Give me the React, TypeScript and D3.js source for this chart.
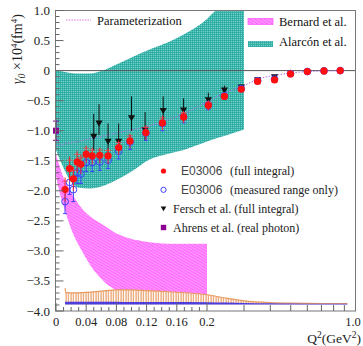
import * as d3 from 'd3';

// E03006 points (full integral and measured range only)
const q2E = [0.012, 0.018, 0.023, 0.028, 0.033, 0.040, 0.048, 0.058, 0.069, 0.083, 0.098, 0.119, 0.141, 0.169, 0.203, 0.242, 0.291, 0.348, 0.419, 0.499, 0.60, 0.72, 0.86];
const gammaFull = [-1.98, -1.63, -1.80, -1.52, -1.56, -1.39, -1.42, -1.41, -1.42, -1.28, -1.17, -1.03, -0.87, -0.77, -0.58, -0.43, -0.31, -0.18, -0.155, -0.055, -0.017, -0.005, 0.0];
const errFull = [0.2, 0.2, 0.2, 0.18, 0.16, 0.14, 0.14, 0.13, 0.13, 0.12, 0.12, 0.12, 0.12, 0.1, 0.08, 0.05, 0.04, 0.03, 0.02, 0.02, 0.02, 0.02, 0.02];
const gammaMeas = [-2.18, -1.86, -1.98, -1.70, -1.72, -1.53, -1.53, -1.52, -1.49, -1.34, -1.19, -1.04, -0.88, -0.77, -0.57, -0.42, -0.30, -0.17, -0.14, -0.05, -0.015, -0.004, 0.0];
const errMeas = [0.2, 0.2, 0.2, 0.18, 0.16, 0.15, 0.15, 0.14, 0.14, 0.13, 0.12, 0.12, 0.12, 0.1, 0.08, 0.05, 0.04, 0.03, 0.02, 0.02, 0.02, 0.02, 0.02];

// Fersch et al.
const q2Fersch = [0.05, 0.057, 0.069, 0.083, 0.1, 0.118, 0.142, 0.169, 0.203, 0.242, 0.291, 0.348, 0.419];
const gammaFersch = [-1.1, -0.88, -1.18, -1.18, -0.79, -0.99, -0.67, -0.66, -0.49, -0.33, -0.28, -0.16, -0.11];
const errFersch = [0.38, 0.32, 0.3, 0.3, 0.36, 0.3, 0.24, 0.2, 0.12, 0.08, 0.05, 0.04, 0.03];

// Ahrens et al. (real photon)
const q2Ahrens = [0];
const gammaAhrens = [-1.0];
const errAhrens = [0.16];

// Parameterization
const q2Param = [0, 0.04, 0.08, 0.12, 0.165, 0.2, 0.24, 0.3, 0.35, 0.42, 0.5, 0.6, 0.75, 0.9];
const gammaParam = [-1.25, -1.15, -1.04, -0.93, -0.74, -0.52, -0.38, -0.25, -0.14, -0.08, -0.04, -0.015, -0.005, 0];

// Alarcón et al. band
const q2Alarcon = [0, 0.01, 0.02, 0.03, 0.045, 0.062, 0.08, 0.1, 0.124, 0.15, 0.169, 0.2, 0.22, 0.25, 0.3];
const alarconHigh = [0, -0.02, -0.04, -0.05, -0.05, 0, 0.1, 0.22, 0.35, 0.48, 0.6, 0.86, 1.0, 1.1, 1.3];
const alarconLow = [-1.32, -1.62, -1.85, -1.95, -1.96, -1.92, -1.82, -1.68, -1.48, -1.38, -1.32, -1.18, -1.13, -1.07, -0.98];

// Bernard et al. band
const q2Bernard = [0, 0.005, 0.01, 0.019, 0.036, 0.05, 0.059, 0.066, 0.08, 0.088, 0.1, 0.107, 0.147, 0.2];
const bernardHigh = [-1.4, -1.6, -1.78, -2.0, -2.32, -2.47, -2.54, -2.6, -2.71, -2.75, -2.8, -2.82, -2.88, -2.88];
const bernardLow = [-1.75, -2.04, -2.25, -2.6, -3.04, -3.32, -3.45, -3.54, -3.66, -3.71, -3.76, -3.77, -3.77, -3.77];

// systematic error bands at the bottom
const q2Sys = [0.012, 0.013, 0.02, 0.04, 0.06, 0.08, 0.1, 0.12, 0.15, 0.2, 0.25, 0.3, 0.4, 0.5, 0.7, 0.93];
const sysTop = [-3.62, -3.69, -3.7, -3.69, -3.67, -3.65, -3.65, -3.66, -3.68, -3.73, -3.79, -3.83, -3.86, -3.87, -3.875, -3.875];
const sysBlueTop = [-3.845, -3.845, -3.845, -3.845, -3.845, -3.845, -3.85, -3.85, -3.85, -3.855, -3.86, -3.865, -3.87, -3.875, -3.88, -3.88];
const sysBottom = -3.89;

const yTicks = [1.0, 0.5, 0, -0.5, -1.0, -1.5, -2.0, -2.5, -3.0, -3.5, -4.0];
const xTicksLow = [0, 0.04, 0.08, 0.12, 0.16, 0.2];
const xTicksHigh = [0.3, 0.4, 0.5, 0.6, 0.7, 0.8, 0.9];

const SERIF = '"Liberation Serif", "DejaVu Serif", serif';
const SANS = '"Liberation Sans", "DejaVu Sans", sans-serif';

export default function App() {
  const width = 363;
  const height = 346;
  const left = 55.5, right = 355.5, top = 10.5, bottom = 311;

  const xLin = d3.scaleLinear().domain([0, 0.2]).range([56, 207]);
  const xLog = d3.scaleLog().domain([0.2, 1.0]).range([207, 354]);
  const x = (q: number) => (q <= 0.2 ? xLin(q) : xLog(q));
  const y = d3.scaleLinear().domain([-4, 1]).range([bottom, top]);

  const band = (qs: number[], lo: number[], hi: number[]) =>
    d3.area<number>()
      .x((_, i) => x(qs[i]))
      .y0((_, i) => y(lo[i]))
      .y1((_, i) => y(hi[i]))
      .curve(d3.curveMonotoneX)(qs.map((_, i) => i)) || '';

  const alarconPath = band(q2Alarcon, alarconLow, alarconHigh);
  const bernardPath = band(q2Bernard, bernardLow, bernardHigh);
  const orangePath = band(q2Sys, q2Sys.map(() => sysBottom), sysTop);
  const bluePath = band(q2Sys, q2Sys.map(() => sysBottom), sysBlueTop);
  const orangeTop = d3.line<number>()
    .x((_, i) => x(q2Sys[i]))
    .y((_, i) => y(sysTop[i]))
    .curve(d3.curveMonotoneX)(q2Sys.map((_, i) => i)) || '';
  const paramPath = d3.line<number>()
    .x((_, i) => x(q2Param[i]))
    .y((_, i) => y(gammaParam[i]))
    .curve(d3.curveMonotoneX)(q2Param.map((_, i) => i)) || '';

  const minorY = d3.range(-40, 11).map(v => v / 10).filter(v => Math.abs(v * 2 - Math.round(v * 2)) > 1e-6);
  const minorX = d3.range(1, 20).map(v => v / 100).filter(v => Math.abs(v * 25 - Math.round(v * 25)) > 1e-6);

  const triangle = (cx: number, cy: number, s: number) =>
    `M${cx - s},${cy - s * 0.8}L${cx + s},${cy - s * 0.8}L${cx},${cy + s * 0.9}Z`;

  const legendRows = [
    { kind: 'red', code: 'E03006', rest: '(full integral)' },
    { kind: 'blue', code: 'E03006', rest: '(measured range only)' },
    { kind: 'tri', code: '', rest: 'Fersch et al. (full integral)' },
    { kind: 'sq', code: '', rest: 'Ahrens et al. (real photon)' },
  ];
  const legendY = d3.scalePoint<number>().domain([0, 1, 2, 3]).range([171, 227.5]);

  return (
    <svg width={width} height={height} style={{ position: 'absolute', left: 0, top: 0, background: '#fff' }}>
      <defs>
        <clipPath id="plot">
          <rect x={left} y={top} width={right - left} height={bottom - top} />
        </clipPath>
        <pattern id="teal" width="2" height="2" patternUnits="userSpaceOnUse">
          <rect width="2" height="2" fill="#72d2ca" />
          <path d="M0,0.5H2M0.5,0V2" stroke="#2aa8a0" strokeWidth="0.8" />
        </pattern>
        <pattern id="magenta" width="2.5" height="2.5" patternUnits="userSpaceOnUse" patternTransform="rotate(30)">
          <rect width="2.5" height="2.5" fill="#ff6cff" />
          <path d="M0,0.6H2.5" stroke="#ffb8ff" strokeWidth="0.7" />
        </pattern>
        <pattern id="orange" width="2.5" height="10" patternUnits="userSpaceOnUse">
          <rect width="2.5" height="10" fill="#fff" />
          <path d="M1,0V10" stroke="#e07a30" strokeWidth="0.9" />
        </pattern>
      </defs>

      <g clipPath="url(#plot)">
        <path d={bernardPath} fill="url(#magenta)" />
        <path d={alarconPath} fill="url(#teal)" />
        <path d={orangePath} fill="url(#orange)" />
        <path d={orangeTop} fill="none" stroke="#e89a60" strokeWidth={1.2} />
        <path d={bluePath} fill="#3a2ee0" opacity={0.9} />
        <line x1={left} x2={right} y1={y(0)} y2={y(0)} stroke="#555" strokeWidth={1} />
        <path d={paramPath} fill="none" stroke="#b070e0" strokeWidth={1} strokeDasharray="1.5,1.5" />

        {/* Fersch et al. */}
        {q2Fersch.map((q, i) => (
          <g key={'f' + i}>
            <line x1={x(q)} x2={x(q)} y1={y(gammaFersch[i] + errFersch[i])} y2={y(gammaFersch[i] - errFersch[i] * 0.6)} stroke="#111" strokeWidth={1} />
            <path d={triangle(x(q), y(gammaFersch[i]), 3.6)} fill="#111" />
          </g>
        ))}

        {/* measured range only */}
        {q2E.map((q, i) => (
          <g key={'b' + i}>
            <line x1={x(q)} x2={x(q)} y1={y(gammaMeas[i] + errMeas[i])} y2={y(gammaMeas[i] - errMeas[i])} stroke="#4040ff" strokeWidth={1} />
            <line x1={x(q) - 2} x2={x(q) + 2} y1={y(gammaMeas[i] - errMeas[i])} y2={y(gammaMeas[i] - errMeas[i])} stroke="#4040ff" strokeWidth={1} />
            <circle cx={x(q)} cy={y(gammaMeas[i])} r={3.4} fill="none" stroke="#4040ff" strokeWidth={1} />
          </g>
        ))}

        {/* full integral */}
        {q2E.map((q, i) => (
          <g key={'r' + i}>
            <line x1={x(q)} x2={x(q)} y1={y(gammaFull[i] + errFull[i])} y2={y(gammaFull[i] - errFull[i])} stroke="#ff2020" strokeWidth={1} />
            <line x1={x(q) - 3} x2={x(q) + 3} y1={y(gammaFull[i] + errFull[i] * 0.7)} y2={y(gammaFull[i] + errFull[i] * 0.7)} stroke="#ff4040" strokeWidth={0.8} />
            <circle cx={x(q)} cy={y(gammaFull[i])} r={3.6} fill="#ff1010" />
          </g>
        ))}
      </g>

      {/* Ahrens et al. */}
      {q2Ahrens.map((q, i) => (
        <g key={'a' + i}>
          <line x1={x(q)} x2={x(q)} y1={y(gammaAhrens[i] + errAhrens[i])} y2={y(gammaAhrens[i] - errAhrens[i])} stroke="#900090" strokeWidth={1} />
          <line x1={x(q) - 3} x2={x(q) + 3} y1={y(gammaAhrens[i] + errAhrens[i])} y2={y(gammaAhrens[i] + errAhrens[i])} stroke="#900090" strokeWidth={1} />
          <line x1={x(q) - 3} x2={x(q) + 3} y1={y(gammaAhrens[i] - errAhrens[i])} y2={y(gammaAhrens[i] - errAhrens[i])} stroke="#900090" strokeWidth={1} />
          <rect x={x(q) - 3} y={y(gammaAhrens[i]) - 3} width={6} height={6} fill="#900090" />
        </g>
      ))}

      {/* frame */}
      <rect x={left} y={top} width={right - left} height={bottom - top} fill="none" stroke="#777" strokeWidth={1} />

      {/* y ticks */}
      {yTicks.map(t => (
        <g key={'yt' + t}>
          <line x1={left} x2={left + 8} y1={y(t)} y2={y(t)} stroke="#666" />
          <text x={50} y={y(t) + 4.5} textAnchor="end" fontFamily={SERIF} fontSize={13} fill="#222">
            {t === 0 ? '0' : (t < 0 ? '\u2212' : '') + Math.abs(t).toFixed(1)}
          </text>
        </g>
      ))}
      {minorY.map(t => (
        <line key={'ym' + t} x1={left} x2={left + 4} y1={y(t)} y2={y(t)} stroke="#666" />
      ))}

      {/* x ticks */}
      {xTicksLow.map(t => (
        <g key={'xt' + t}>
          <line x1={x(t)} x2={x(t)} y1={bottom} y2={bottom - 8} stroke="#666" />
          <text x={x(t)} y={325.5} textAnchor="middle" fontFamily={SERIF} fontSize={12.5} fill="#222">
            {t === 0 ? '0' : String(t)}
          </text>
        </g>
      ))}
      {minorX.map(t => (
        <line key={'xm' + t} x1={x(t)} x2={x(t)} y1={bottom} y2={bottom - 4} stroke="#666" />
      ))}
      {xTicksHigh.map(t => (
        <line key={'xh' + t} x1={x(t)} x2={x(t)} y1={bottom} y2={bottom - 6} stroke="#666" />
      ))}
      <text x={353} y={325.5} textAnchor="middle" fontFamily={SERIF} fontSize={12.5} fill="#222">1.0</text>

      {/* axis titles */}
      <text x={361} y={342.5} textAnchor="end" fontFamily={SERIF} fontSize={13.5} fill="#222">
        Q<tspan dy={-4.5} fontSize={9.5}>2</tspan><tspan dy={4.5}>(GeV</tspan><tspan dy={-4.5} fontSize={9.5}>2</tspan><tspan dy={4.5}>)</tspan>
      </text>
      <text transform="translate(22,84) rotate(-90)" fontFamily={SERIF} fontSize={14} fill="#222">
        <tspan fontStyle="italic">γ</tspan><tspan dy={3} fontSize={10} fontStyle="italic">0</tspan><tspan dy={-3}> ×10</tspan><tspan dy={-5} fontSize={9}>4</tspan><tspan dy={5}>(fm</tspan><tspan dy={-5} fontSize={9}>4</tspan><tspan dy={5}>)</tspan>
      </text>

      {/* top legends */}
      <line x1={66} x2={91} y1={20} y2={20} stroke="#e070e0" strokeWidth={1} strokeDasharray="1.5,1.2" />
      <text x={97} y={24.5} fontFamily={SERIF} fontSize={12.5} fill="#111">Parameterization</text>
      <rect x={248} y={18.5} width={25} height={6} fill="url(#magenta)" stroke="#ff60ff" strokeWidth={0.8} />
      <text x={279} y={25.5} fontFamily={SERIF} fontSize={12.5} fill="#111">Bernard et al.</text>
      <rect x={248} y={41} width={25} height={6} fill="url(#teal)" />
      <text x={279} y={46} fontFamily={SERIF} fontSize={12.5} fill="#111">Alarcón et al.</text>

      {/* bottom legend */}
      {legendRows.map((r, i) => {
        const ly = legendY(i) as number;
        return (
          <g key={'lg' + i}>
            {r.kind === 'red' && <circle cx={163.5} cy={ly} r={2.6} fill="#ff1010" />}
            {r.kind === 'blue' && <circle cx={163.5} cy={ly} r={2.6} fill="none" stroke="#4040ff" strokeWidth={1} />}
            {r.kind === 'tri' && <path d={triangle(163.5, ly, 2.8)} fill="#111" />}
            {r.kind === 'sq' && <rect x={160.8} y={ly - 2.7} width={5.4} height={5.4} fill="#900090" />}
            {r.code ? (
              <text y={ly + 4} fontSize={12} fill="#222">
                <tspan x={181} fontFamily={SANS} fill="#444">{r.code}</tspan>
                <tspan x={230} fontFamily={SERIF}>{r.rest}</tspan>
              </text>
            ) : (
              <text x={173} y={ly + 4} fontFamily={SERIF} fontSize={12} fill="#222">{r.rest}</text>
            )}
          </g>
        );
      })}
    </svg>
  );
}
